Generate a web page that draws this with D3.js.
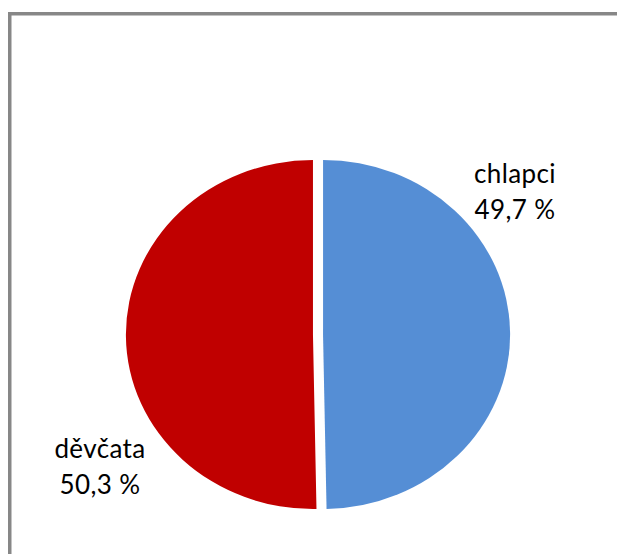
<!DOCTYPE html>
<html>
<head>
<meta charset="utf-8">
<script src="https://cdn.jsdelivr.net/npm/d3@7"></script>
<style>
  html, body { margin: 0; padding: 0; background: #fff; }
  svg { display: block; }
  text { font-family: Lato, "Open Sans", sans-serif; fill: #000; }
</style>
</head>
<body>
<script>
const categories = ["chlapci", "děvčata"];
const values = [49.7, 50.3];
const valueLabels = ["49,7 %", "50,3 %"];
const colors = ["#558ED5", "#C00000"];

const W = 617, H = 554;
const svg = d3.select("body").append("svg").attr("width", W).attr("height", H);

// frame (top + left visible)
svg.append("rect")
  .attr("x", 9.75).attr("y", 13.75)
  .attr("width", W + 20).attr("height", H + 20)
  .attr("fill", "none").attr("stroke", "#878787").attr("stroke-width", 3.5);

const cx = 318, cy = 334.5, r = 174.5, sx = 1.072, explode = 4.7;

const data = categories.map((c, i) => ({ name: c, value: values[i], label: valueLabels[i], color: colors[i] }));
const pie = d3.pie().sort(null).value(d => d.value).startAngle(0).endAngle(2 * Math.PI);
const arc = d3.arc().innerRadius(0).outerRadius(r);

const g = svg.append("g").attr("transform", `translate(${cx},${cy}) scale(${sx},1)`);
g.selectAll("path").data(pie(data)).join("path")
  .attr("d", arc)
  .attr("fill", d => d.data.color)
  .attr("transform", d => {
    const a = (d.startAngle + d.endAngle) / 2;
    return `translate(${explode * Math.sin(a)},${-explode * Math.cos(a)})`;
  });

// label anchors (layout, relative to pie centre)
const labelPos = [[197, -152], [-218, 123]];
const lab = svg.append("g").attr("transform", `translate(${cx},${cy})`);
data.forEach((d, i) => {
  const t = lab.append("text")
    .attr("x", labelPos[i][0]).attr("y", labelPos[i][1])
    .attr("text-anchor", "middle")
    .style("font-size", "26px")
    .style("letter-spacing", "0.4px");
  t.append("tspan").attr("x", labelPos[i][0]).text(d.name);
  t.append("tspan").attr("x", labelPos[i][0]).attr("dy", 36).text(d.label);
});
</script>
</body>
</html>
